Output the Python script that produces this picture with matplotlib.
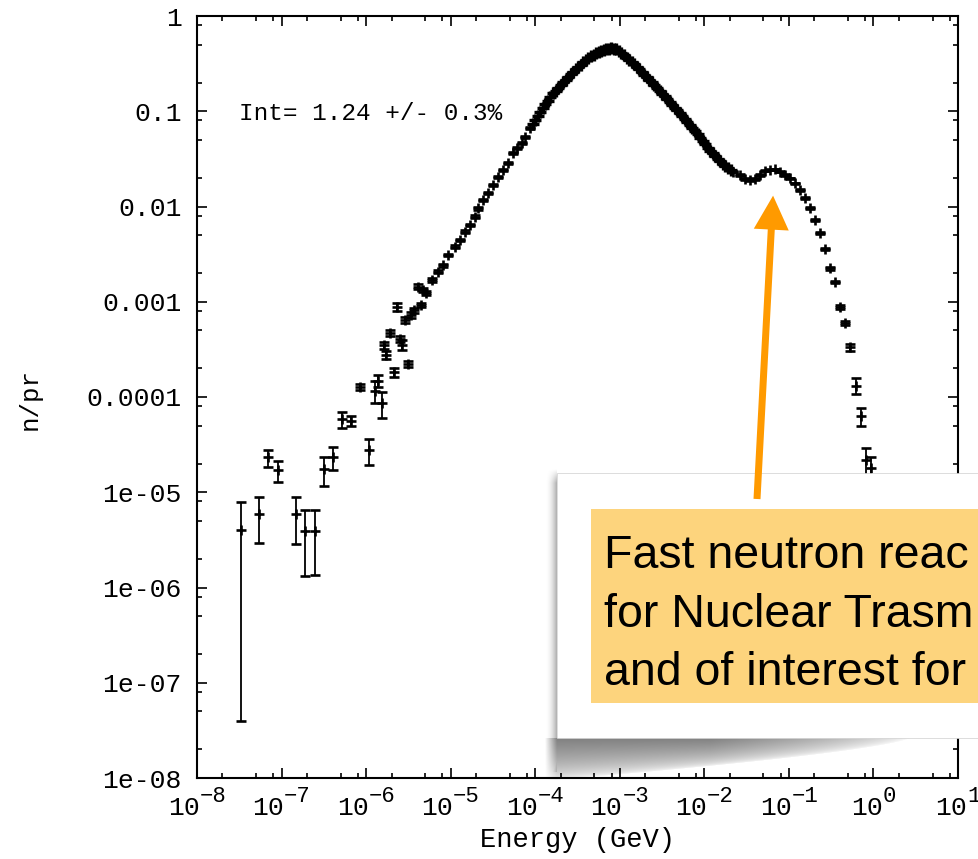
import numpy as np
import matplotlib
matplotlib.use("Agg")
import matplotlib.pyplot as plt
from matplotlib.ticker import LogLocator, NullFormatter
from matplotlib.patches import Rectangle, FancyArrow

MONO = "Liberation Mono"
SANS = "Liberation Sans"

# low-statistics bins (energy in GeV, neutrons per proton, error)
low_energy = [3.31e-8, 5.46e-8, 6.97e-8, 8.99e-8, 1.48e-7, 1.91e-7, 2.47e-7,
              3.15e-7, 4.03e-7, 5.24e-7, 6.62e-7, 8.55e-7, 1.09e-6, 1.27e-6,
              1.40e-6, 1.54e-6, 1.61e-6, 1.74e-6, 1.92e-6, 2.11e-6, 2.35e-6,
              2.55e-6, 2.69e-6, 2.88e-6, 3.17e-6, 3.40e-6, 3.69e-6, 4.11e-6,
              4.40e-6, 4.65e-6, 5.04e-6]
low_flux = [4.0e-6, 5.9e-6, 2.33e-5, 1.71e-5, 5.87e-6, 3.92e-6, 3.95e-6,
            1.74e-5, 2.33e-5, 5.83e-5, 5.64e-5, 1.28e-4, 2.78e-5, 1.16e-4,
            1.48e-4, 8.6e-5, 3.52e-4, 2.76e-4, 4.67e-4, 1.84e-4, 8.87e-4,
            4.04e-4, 3.52e-4, 6.43e-4, 2.22e-4, 7.26e-4, 8.18e-4, 1.44e-3,
            9.25e-4, 1.33e-3, 1.23e-3]
low_err = [3.96e-6, 3.0e-6, 4.7e-6, 4.4e-6, 3.0e-6, 2.6e-6, 2.6e-6,
           5.8e-6, 6.2e-6, 1.1e-5, 7.0e-6, 1.0e-5, 8.7e-6, 3.0e-5,
           2.1e-5, 2.6e-5, 3.0e-5, 2.5e-5, 3.5e-5, 2.0e-5, 8.0e-5,
           3.0e-5, 4.0e-5, 5.0e-5, 1.5e-5, 5.0e-5, 5.0e-5, 8.0e-5,
           5.0e-5, 7.0e-5, 6.0e-5]

# rising edge below the fast peak
rise_energy = [5.97e-6, 7.14e-6, 8.18e-6, 9.38e-6, 1.12e-5, 1.29e-5, 1.48e-5,
               1.69e-5, 1.94e-5, 2.12e-5, 2.43e-5, 2.79e-5, 3.19e-5, 3.66e-5,
               4.20e-5, 4.81e-5, 5.51e-5, 6.04e-5, 6.92e-5, 7.57e-5, 8.67e-5]
rise_flux = [1.69e-3, 2.07e-3, 2.43e-3, 3.10e-3, 3.78e-3, 4.45e-3, 5.45e-3,
             6.40e-3, 7.82e-3, 9.57e-3, 1.17e-2, 1.38e-2, 1.68e-2, 2.06e-2,
             2.42e-2, 2.84e-2, 3.62e-2, 4.08e-2, 4.60e-2, 5.41e-2, 6.62e-2]
rise_err = [7e-5, 8e-5, 9e-5, 1.1e-4, 1.3e-4, 1.5e-4, 1.8e-4,
            2.0e-4, 2.4e-4, 2.8e-4, 3.3e-4, 3.8e-4, 4.5e-4, 5.4e-4,
            6.2e-4, 7.0e-4, 8.8e-4, 9.7e-4, 1.08e-3, 1.24e-3, 1.5e-3]

# fast peak, fine binning (log10 of energy in GeV)
peak_log_energy = [-4.03, -4.00, -3.97, -3.94, -3.91, -3.88, -3.85, -3.82, -3.79,
                   -3.76, -3.73, -3.70, -3.67, -3.64, -3.61, -3.58, -3.55, -3.52,
                   -3.49, -3.46, -3.43, -3.40, -3.37, -3.34, -3.31, -3.28, -3.25,
                   -3.22, -3.19, -3.16, -3.13, -3.10, -3.07, -3.04, -3.01, -2.98,
                   -2.95, -2.92, -2.89, -2.86, -2.83, -2.80, -2.77, -2.74, -2.71,
                   -2.68, -2.65, -2.62, -2.59, -2.56, -2.53, -2.50, -2.47, -2.44,
                   -2.41, -2.38, -2.35, -2.32, -2.29, -2.26, -2.23, -2.20, -2.17,
                   -2.14, -2.11, -2.08, -2.05, -2.02, -1.99, -1.96, -1.93, -1.90,
                   -1.87, -1.84, -1.81, -1.78, -1.75, -1.72, -1.69]
peak_flux = [0.0733, 0.0809, 0.0895, 0.0989, 0.108, 0.118, 0.129, 0.141, 0.154,
             0.165, 0.176, 0.188, 0.201, 0.215, 0.230, 0.245, 0.260, 0.275,
             0.292, 0.309, 0.327, 0.348, 0.363, 0.377, 0.391, 0.406, 0.421,
             0.434, 0.442, 0.449, 0.455, 0.457, 0.455, 0.445, 0.431, 0.407,
             0.386, 0.366, 0.348, 0.330, 0.312, 0.293, 0.275, 0.259, 0.243,
             0.229, 0.215, 0.201, 0.189, 0.176, 0.164, 0.153, 0.143, 0.134,
             0.125, 0.116, 0.109, 0.102, 0.0957, 0.0897, 0.0834, 0.0773, 0.0718,
             0.0665, 0.0618, 0.0571, 0.0527, 0.0485, 0.0448, 0.0415, 0.0386, 0.0361,
             0.0336, 0.0315, 0.0298, 0.0282, 0.0267, 0.0254, 0.0243]

# high-energy bump and cut-off
tail_energy = [0.02203, 0.02642, 0.03027, 0.03475, 0.03981, 0.04560, 0.05224,
               0.05984, 0.06855, 0.07852, 0.08995, 0.1033, 0.1183, 0.1355,
               0.1552, 0.1778, 0.2037, 0.2333, 0.2679, 0.3069, 0.3516,
               0.4027, 0.4613, 0.5284, 0.6180, 0.7079, 0.8110, 0.9290]
tail_flux = [0.0232, 0.0214, 0.0195, 0.0190, 0.0195, 0.0214, 0.0238,
             0.0242, 0.0246, 0.0232, 0.0214, 0.0198, 0.0175, 0.0149,
             0.0122, 0.00957, 0.00721, 0.00531, 0.00356, 0.00224, 0.00162,
             8.75e-4, 5.94e-4, 3.33e-4, 1.32e-4, 6.32e-5, 2.18e-5, 1.78e-5]
tail_err = [3e-4, 3e-4, 3e-4, 3e-4, 3e-4, 3e-4, 3e-4,
            3e-4, 3e-4, 3e-4, 3e-4, 3e-4, 3e-4, 3e-4,
            2.5e-4, 2e-4, 1.6e-4, 1.2e-4, 8e-5, 6e-5, 5e-5,
            4e-5, 3e-5, 2.7e-5, 2.5e-5, 1.35e-5, 7e-6, 5.8e-6]

ytick_values = [1e-8, 1e-7, 1e-6, 1e-5, 1e-4, 1e-3, 1e-2, 1e-1, 1.0]
ytick_labels = ["1e-08", "1e-07", "1e-06", "1e-05", "0.0001", "0.001", "0.01", "0.1", "1"]
xtick_exponents = [-8, -7, -6, -5, -4, -3, -2, -1, 0, 1]

int_label = "Int= 1.24 +/- 0.3%"
callout_lines = ["Fast neutron reac", "for Nuclear Trasm", "and of interest for"]
arrow_tip = (0.065, 0.013)

W, H = 979, 859
fig = plt.figure(figsize=(W / 100, H / 100), dpi=100)
ax = fig.add_axes([197 / W, (H - 778) / H, (958 - 197) / W, (778 - 16) / H])
ax.set_xscale("log")
ax.set_yscale("log")
ax.set_xlim(1e-8, 10)
ax.set_ylim(1e-8, 1)

err_kw = dict(fmt="+", color="black", ms=7.5, mew=1.9, elinewidth=1.3,
              capsize=3.6, capthick=1.3)
ax.errorbar(low_energy, low_flux, yerr=low_err, **err_kw)
ax.errorbar(rise_energy, rise_flux, yerr=rise_err, **err_kw)
ax.plot(10.0 ** np.array(peak_log_energy), peak_flux, "+", color="black",
        ms=9, mew=2.4)
ax.errorbar(tail_energy, tail_flux, yerr=tail_err, **err_kw)

for s in ax.spines.values():
    s.set_linewidth(1.5)

ax.set_xticks([10.0 ** e for e in xtick_exponents])
ax.set_xticklabels([""] * len(xtick_exponents))
ax.xaxis.set_minor_locator(LogLocator(base=10, subs=(2, 5, 8), numticks=30))
ax.xaxis.set_minor_formatter(NullFormatter())
ax.set_yticks(ytick_values)
ax.set_yticklabels(ytick_labels, fontsize=19, family=MONO)
ax.yaxis.set_minor_locator(LogLocator(base=10, subs=(2, 5, 8), numticks=30))
ax.yaxis.set_minor_formatter(NullFormatter())
ax.tick_params(which="both", direction="in", top=True, right=True, width=1.2)
ax.tick_params(which="major", length=7.2)
ax.tick_params(which="minor", length=3.6)
ax.tick_params(axis="y", pad=11)

# "10" with a raised exponent, centred under each decade
base_fs, sup_fs = 19, 16
adv_base, adv_sup = 0.6 * base_fs, 0.6 * sup_fs
for e in xtick_exponents:
    sup = str(e).replace("-", "\u2212")
    total = 2 * adv_base + len(sup) * adv_sup
    x0 = -total / 2
    ax.annotate("10", xy=(10.0 ** e, 0), xycoords=("data", "axes fraction"),
                xytext=(x0, -26.6), textcoords="offset points", ha="left",
                va="baseline", fontsize=base_fs, family=MONO, annotation_clip=False)
    ax.annotate(sup, xy=(10.0 ** e, 0), xycoords=("data", "axes fraction"),
                xytext=(x0 + 2 * adv_base, -17.3), textcoords="offset points",
                ha="left", va="baseline", fontsize=sup_fs, family=MONO,
                annotation_clip=False)

ax.text(0.0552, 0.8635, int_label, transform=ax.transAxes, fontsize=17.6,
        family=MONO, va="baseline")
fig.text(577 / W, (H - 847) / H, "Energy (GeV)", ha="center", va="baseline",
         fontsize=19.5, family=MONO)
fig.text(30 / W, (H - 399) / H, "n/pr", rotation=90, ha="center", va="center",
         fontsize=18.5, family=MONO)

# callout layer in pixel coordinates
ov = fig.add_axes([0, 0, 1, 1], zorder=5)
ov.axis("off")

box_l, box_t, box_b = 557, 473, 738
xs = np.arange(540, W) + 0.5
ys = np.arange(465, 795) + 0.5
X, Y = np.meshgrid(xs, ys)
t = np.clip((X - 545) / (box_l - 545), 0, 1)
left = 0.33 * t ** 2 * np.clip((Y - box_t + 4) / 14, 0, 1) * (Y < box_b + 34) * (X < box_l)
depth = 42 * np.clip((910 - X) / 355, 0, 1) ** 0.7
v = (Y - box_b) / np.maximum(depth, 1e-6)
fade = np.clip(1 - v, 0, 1) ** 0.55
bottom = (0.5 * fade * (Y >= box_b) * np.clip((X - 545) / 12, 0, 1)
          * np.clip((910 - X) / 200, 0, 1) ** 0.6)
rgba = np.zeros(X.shape + (4,))
rgba[..., 3] = np.maximum(left, bottom)
ov.imshow(rgba, extent=(540, W, H - 795, H - 465), origin="upper",
          interpolation="bilinear", aspect="auto", zorder=1)

ov.add_patch(Rectangle((box_l, H - box_b), 460, box_b - box_t, facecolor="white",
                       edgecolor="#cfcfcf", lw=0.5, zorder=2))
ov.add_patch(Rectangle((591, H - 703), 420, 703 - 509, facecolor="#FDD47D",
                       edgecolor="none", zorder=3))
for line, base in zip(callout_lines, [568, 627, 685]):
    ov.text(604, H - base, line, fontsize=33.5, family=SANS, va="baseline",
            ha="left", color="black", zorder=4)

tip = ax.transData.transform(arrow_tip)
tail = np.array([757.0, H - 499.0])
d = tip - tail
ov.add_patch(FancyArrow(tail[0], tail[1], d[0], d[1], width=7, head_width=35,
                        head_length=34, length_includes_head=True,
                        color="#FF9A00", lw=0, zorder=6))
ov.set_xlim(0, W)
ov.set_ylim(0, H)

fig.savefig("out.png", dpi=100)
